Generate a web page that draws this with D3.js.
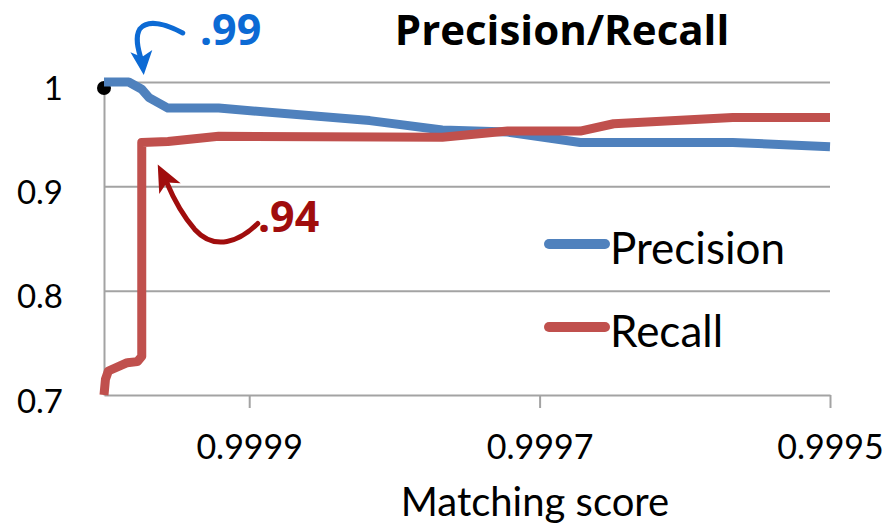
<!DOCTYPE html>
<html>
<head>
<meta charset="utf-8">
<script src="https://cdn.jsdelivr.net/npm/d3@7"></script>
<style>
    body { margin: 0; background: #fff; }
    #chart { width: 887px; height: 529px; }
</style>
</head>
<body>
<div id="chart"></div>
<script>
// matching score thresholds (x) and values
var precisionScore = [1.0, 0.999983, 0.999974, 0.999969, 0.999956, 0.999921, 0.999817, 0.999767, 0.999722, 0.999672, 0.999649, 0.999567, 0.9995];
var precisionValue = [1.0, 1.0, 0.993, 0.985, 0.975, 0.975, 0.963, 0.954, 0.952, 0.942, 0.942, 0.942, 0.938];

var recallScore = [1.0, 0.999999, 0.999997, 0.999984, 0.999977, 0.999974, 0.999974, 0.999956, 0.999921, 0.999767, 0.999722, 0.999672, 0.999649, 0.999567, 0.9995];
var recallValue = [0.70, 0.715, 0.723, 0.731, 0.732, 0.737, 0.942, 0.943, 0.948, 0.947, 0.953, 0.953, 0.960, 0.966, 0.966];

var xTicks = [0.9999, 0.9997, 0.9995];
var yTicks = [0.7, 0.8, 0.9, 1.0];
var seriesNames = ["Precision", "Recall"];
var seriesColors = ["#4F81BD", "#C0504D"];

(function() {
    var width = 887,
        height = 529,
        plotLeft = 104,
        plotRight = 830,
        plotTop = 82,
        plotBottom = 395;

    var svg = d3.select("#chart")
        .append("svg")
        .attr("width", width)
        .attr("height", height);

    var x = d3.scaleLinear().domain([1.0, 0.9995]).range([plotLeft, plotRight]);
    var y = d3.scaleLinear().domain([0.7, 1.0]).range([plotBottom, plotTop]);

    // horizontal gridlines
    svg.append("g")
        .attr("transform", "translate(" + plotLeft + ",0)")
        .call(d3.axisLeft(y).tickValues(yTicks.slice(1)).tickSize(-(plotRight - plotLeft)).tickFormat(""))
        .call(g => g.select(".domain").remove())
        .call(g => g.selectAll("line").attr("stroke", "#a3a3a3").attr("stroke-width", 2));

    // y axis
    svg.append("g")
        .attr("transform", "translate(" + plotLeft + ",0)")
        .call(d3.axisLeft(y).tickValues(yTicks).tickSize(0).tickPadding(41)
            .tickFormat(d => d === 1 ? "1" : d3.format(".1f")(d)))
        .call(g => g.select(".domain").attr("stroke", "#a3a3a3").attr("stroke-width", 2))
        .call(g => g.selectAll("text")
            .attr("dy", "0.52em")
            .attr("fill", "#000")
            .attr("font-family", "Lato")
            .attr("font-size", 33));

    // x axis
    svg.append("g")
        .attr("transform", "translate(0," + plotBottom + ")")
        .call(d3.axisBottom(x).tickValues(xTicks).tickSize(13).tickSizeOuter(0).tickPadding(27)
            .tickFormat(d3.format(".4f")))
        .call(g => g.select(".domain").attr("stroke", "#a3a3a3").attr("stroke-width", 2))
        .call(g => g.selectAll("line").attr("stroke", "#a3a3a3").attr("stroke-width", 2))
        .call(g => g.selectAll("text")
            .attr("fill", "#000")
            .attr("font-family", "Lato")
            .attr("font-size", 34));

    svg.append("text")
        .attr("x", 535)
        .attr("y", 516)
        .attr("text-anchor", "middle")
        .attr("font-family", "Lato")
        .attr("font-size", 40)
        .text("Matching score");

    svg.append("text")
        .attr("x", 562)
        .attr("y", 45)
        .attr("text-anchor", "middle")
        .attr("font-family", "Open Sans")
        .attr("font-weight", "bold")
        .attr("font-size", 42)
        .text("Precision/Recall");

    var line = d3.line()
        .x(d => x(d[0]))
        .y(d => y(d[1]));

    var series = [
        d3.zip(precisionScore, precisionValue),
        d3.zip(recallScore, recallValue)
    ];

    // black marker at the start of precision
    svg.append("circle")
        .attr("cx", x(precisionScore[0]))
        .attr("cy", y(precisionValue[0]) + 6)
        .attr("r", 7)
        .attr("fill", "#000");

    svg.selectAll(".series")
        .data(series)
        .enter().append("path")
        .attr("class", "series")
        .attr("d", line)
        .attr("fill", "none")
        .attr("stroke", (d, i) => seriesColors[i])
        .attr("stroke-width", 9)
        .attr("stroke-linejoin", "round");

    // legend
    var legend = svg.selectAll(".legend")
        .data(seriesNames)
        .enter().append("g")
        .attr("class", "legend")
        .attr("transform", (d, i) => "translate(549," + (244 + i * 83) + ")");

    legend.append("line")
        .attr("x1", 0)
        .attr("x2", 56)
        .attr("stroke", (d, i) => seriesColors[i])
        .attr("stroke-width", 10)
        .attr("stroke-linecap", "round");

    legend.append("text")
        .attr("x", 61)
        .attr("y", 20)
        .attr("font-family", "Lato")
        .attr("font-size", 44)
        .text(d => d);

    // hand drawn annotations
    function arrowHead(tx, ty, dx, dy, len, half) {
        var n = Math.sqrt(dx * dx + dy * dy);
        dx /= n; dy /= n;
        var bx = tx - dx * len, by = ty - dy * len,
            nx = tx - dx * len * 0.75, ny = ty - dy * len * 0.75;
        return "M" + tx + "," + ty +
            "L" + (bx - dy * half) + "," + (by + dx * half) +
            "L" + nx + "," + ny +
            "L" + (bx + dy * half) + "," + (by - dx * half) + "Z";
    }

    var tip99x = x(precisionScore[2]) + 2, tip99y = y(1.0) - 7;
    svg.append("path")
        .attr("d", "M" + (tip99x + 39) + "," + (tip99y - 42) +
            "C" + (tip99x + 22) + "," + (tip99y - 51) + " " + (tip99x + 4) + "," + (tip99y - 56) + " " + (tip99x - 4) + "," + (tip99y - 46) +
            "C" + (tip99x - 9) + "," + (tip99y - 38) + " " + (tip99x - 6) + "," + (tip99y - 26) + " " + (tip99x - 2) + "," + (tip99y - 14))
        .attr("fill", "none")
        .attr("stroke", "#0c6ad4")
        .attr("stroke-width", 5)
        .attr("stroke-linecap", "round");
    svg.append("path")
        .attr("d", arrowHead(tip99x, tip99y, 0.1, 1, 24, 11))
        .attr("fill", "#0c6ad4");
    svg.append("text")
        .attr("x", 200)
        .attr("y", 45)
        .attr("font-family", "Noto Sans")
        .attr("font-weight", "bold")
        .attr("font-size", 43)
        .attr("fill", "#0c6ad4")
        .text(".99");

    var tip94x = x(recallScore[6]) + 16, tip94y = y(recallValue[7]) + 23;
    svg.append("path")
        .attr("d", "M" + (tip94x + 100) + "," + (tip94y + 59) +
            "C" + (tip94x + 82) + "," + (tip94y + 77) + " " + (tip94x + 57) + "," + (tip94y + 87) + " " + (tip94x + 37) + "," + (tip94y + 65) +
            "C" + (tip94x + 25) + "," + (tip94y + 51) + " " + (tip94x + 17) + "," + (tip94y + 37) + " " + (tip94x + 9) + "," + (tip94y + 18))
        .attr("fill", "none")
        .attr("stroke", "#a00d0d")
        .attr("stroke-width", 5)
        .attr("stroke-linecap", "round");
    svg.append("path")
        .attr("d", arrowHead(tip94x, tip94y, -0.45, -0.89, 27, 12))
        .attr("fill", "#a00d0d");
    svg.append("text")
        .attr("x", 258)
        .attr("y", 232)
        .attr("font-family", "Noto Sans")
        .attr("font-weight", "bold")
        .attr("font-size", 43)
        .attr("fill", "#a00d0d")
        .text(".94");
})();
</script>
</body>
</html>
